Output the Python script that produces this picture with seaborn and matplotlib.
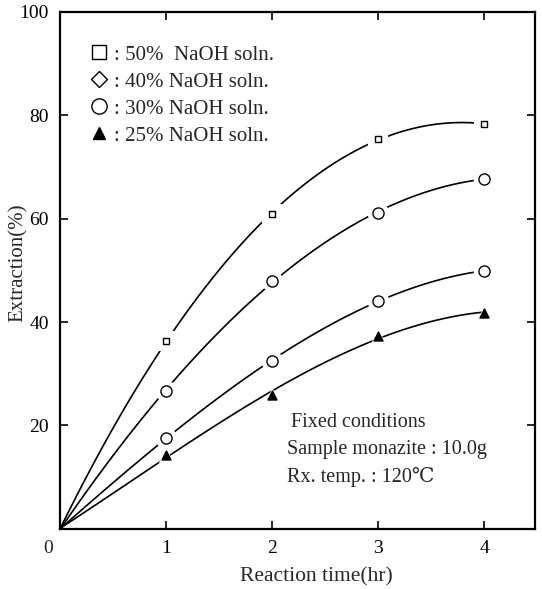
import numpy as np
import pandas as pd
import seaborn as sns
import matplotlib
matplotlib.use("Agg")
import matplotlib.pyplot as plt
from matplotlib.lines import Line2D

# ---- data ----
time_hr = [0, 1, 2, 3, 4]
naoh_50 = [0, 36.4, 60.9, 75.4, 78.3]
naoh_40 = [0, 26.7, 48.0, 61.1, 67.7]
naoh_30 = [0, 17.6, 32.5, 44.1, 49.9]
naoh_25 = [0, 14.3, 25.9, 37.3, 41.8]
series_values = [naoh_50, naoh_40, naoh_30, naoh_25]
legend_labels = [": 50%  NaOH soln.", ": 40% NaOH soln.", ": 30% NaOH soln.", ": 25% NaOH soln."]
legend_markers = ["s", "D", "o", "^"]
plot_markers = ["s", "o", "o", "^"]
x_ticks = [1, 2, 3, 4]
y_ticks = [20, 40, 60, 80, 100]
notes = ["Fixed conditions", "Sample monazite : 10.0g", "Rx. temp. : 120\u2103"]

sns.set_theme(style="ticks")
plt.rcParams["font.family"] = ["Liberation Serif", "DejaVu Serif", "DejaVu Sans"]

fig = plt.figure(figsize=(5.42, 5.89), dpi=100)
ax = fig.add_axes([0.111, 0.102, 0.876, 0.878])

marker_size = {"s": 24, "o": 64, "^": 42}
halo_size = {"s": 190, "o": 240, "^": 120}

for vals, mk in zip(series_values, plot_markers):
    df = pd.DataFrame({"t": time_hr, "e": vals})
    sns.regplot(data=df, x="t", y="e", order=3, ci=None, scatter=False, ax=ax,
                truncate=True, line_kws=dict(color="black", lw=1.2, zorder=2))
    pts = df[df["t"] > 0]
    sns.scatterplot(data=pts, x="t", y="e", marker=mk, s=halo_size[mk], color="white",
                    linewidth=0, ax=ax, zorder=3, legend=False)
    face = "black" if mk == "^" else "white"
    sns.scatterplot(data=pts, x="t", y="e", marker=mk, s=marker_size[mk], facecolor=face,
                    edgecolor="black", linewidth=1.0, ax=ax, zorder=4, legend=False)

ax.set_xlim(0, 4.48)
ax.set_ylim(0, 100)
ax.set_xticks(x_ticks)
ax.set_xticklabels([str(v) for v in x_ticks])
ax.set_yticks(y_ticks)
ax.set_yticklabels([str(v) for v in y_ticks])
ax.tick_params(direction="in", length=6, width=1.2, labelsize=14, colors="black",
               top=True, right=True, pad=8)
ax.tick_params(axis="y", pad=8)
for sp in ax.spines.values():
    sp.set_visible(True)
    sp.set_linewidth(1.6)
    sp.set_color("black")

ax.set_xlabel("Reaction time(hr)", fontsize=15.5)
ax.xaxis.set_label_coords(0.54, -0.075)
ax.set_ylabel("Extraction(%)", fontsize=15)
ax.yaxis.set_label_coords(-0.068, 0.515)
ax.text(-0.025, -0.037, "0", transform=ax.transAxes, fontsize=14, ha="center", va="center")

handles = []
for mk in legend_markers:
    face = "black" if mk == "^" else "white"
    ms = {"s": 10, "D": 8.5, "o": 11, "^": 9}[mk]
    handles.append(Line2D([], [], linestyle="none", marker=mk, markersize=ms,
                          markerfacecolor=face, markeredgecolor="black", markeredgewidth=1.0))
leg = ax.legend(handles, legend_labels, loc="upper left", bbox_to_anchor=(0.047, 0.952),
                frameon=False, fontsize=15, handlelength=0.8, handletextpad=0.3,
                labelspacing=0.36, borderaxespad=0)

ax.text(0.487, 0.205, notes[0], transform=ax.transAxes, fontsize=14.5, va="center")
ax.text(0.478, 0.153, notes[1], transform=ax.transAxes, fontsize=14.5, va="center")
ax.text(0.478, 0.101, notes[2], transform=ax.transAxes, fontsize=14.5, va="center")

fig.savefig("out.png", dpi=100)
